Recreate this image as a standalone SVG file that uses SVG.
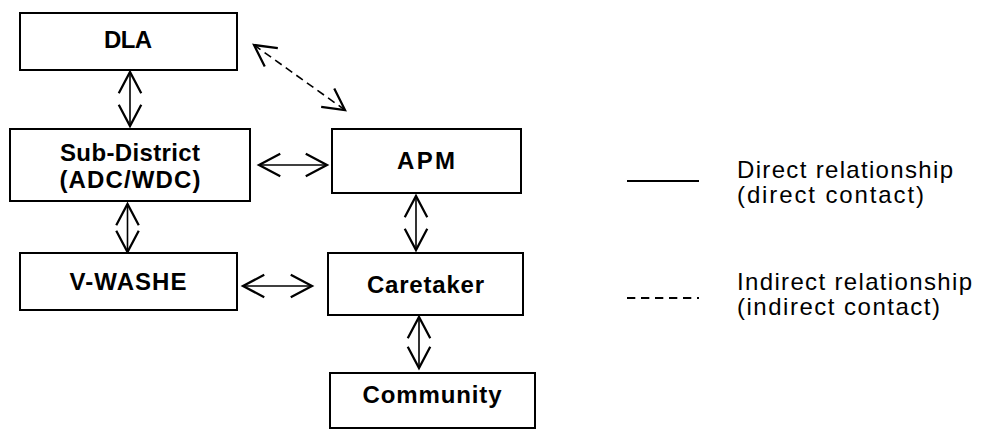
<svg xmlns="http://www.w3.org/2000/svg" width="981" height="430" viewBox="0 0 981 430">
<style>
.box{fill:#fff;stroke:#000;stroke-width:2}
.lbl{font-family:"Liberation Sans",Arial,sans-serif;font-weight:bold;font-size:24px;fill:#000;text-anchor:middle}
.leg{font-family:"Liberation Sans",Arial,sans-serif;font-size:24px;fill:#000}
.con{stroke:#000;stroke-width:1.6;fill:none;marker-start:url(#ah);marker-end:url(#ah)}
.dash{stroke-dasharray:8 5}
</style>
<defs>
<marker id="ah" markerUnits="userSpaceOnUse" markerWidth="30" markerHeight="30" viewBox="-20 -12 24 24" refX="0" refY="0" orient="auto-start-reverse" overflow="visible">
<path d="M-17,-9 L0,0 L-17,9" fill="none" stroke="#000" stroke-width="1.8" stroke-linejoin="miter"/>
</marker>
</defs>
<rect width="981" height="430" fill="#fff"/>
<g id="connectors">
<line class="con" x1="130" y1="72" x2="130" y2="126"/>
<line class="con dash" x1="254" y1="45" x2="345" y2="110"/>
<line class="con" x1="259" y1="165" x2="327" y2="165"/>
<line class="con" x1="127.5" y1="204" x2="127.5" y2="252"/>
<line class="con" x1="416" y1="196" x2="416" y2="250"/>
<line class="con" x1="243" y1="286" x2="312" y2="286"/>
<line class="con" x1="419" y1="317" x2="419" y2="368"/>
</g>
<g id="dla"><rect class="box" x="20" y="13" width="217" height="57"/><text class="lbl" x="128" y="48" textLength="48">DLA</text></g>
<g id="subdistrict"><rect class="box" x="10" y="129" width="240" height="72"/><text class="lbl" x="130" y="161" textLength="140">Sub-District</text><text class="lbl" x="130" y="188" textLength="141">(ADC/WDC)</text></g>
<g id="apm"><rect class="box" x="332" y="129" width="189" height="64"/><text class="lbl" x="426" y="169" textLength="58">APM</text></g>
<g id="vwashe"><rect class="box" x="20" y="253" width="217" height="57"/><text class="lbl" x="128" y="290" textLength="117">V-WASHE</text></g>
<g id="caretaker"><rect class="box" x="328" y="253" width="195" height="62"/><text class="lbl" x="425.5" y="293" textLength="117">Caretaker</text></g>
<g id="community"><rect class="box" x="330" y="373" width="205" height="55"/><text class="lbl" x="432" y="403" textLength="139">Community</text></g>
<g id="legend">
<line x1="627" y1="181" x2="699" y2="181" stroke="#000" stroke-width="2"/>
<line x1="627" y1="298" x2="699" y2="298" stroke="#000" stroke-width="2" stroke-dasharray="8.3 5.7"/>
<text class="leg" x="737" y="178" textLength="216">Direct relationship</text>
<text class="leg" x="737" y="203" textLength="187">(direct contact)</text>
<text class="leg" x="737" y="290" textLength="235">Indirect relationship</text>
<text class="leg" x="737" y="315" textLength="203">(indirect contact)</text>
</g>
</svg>
